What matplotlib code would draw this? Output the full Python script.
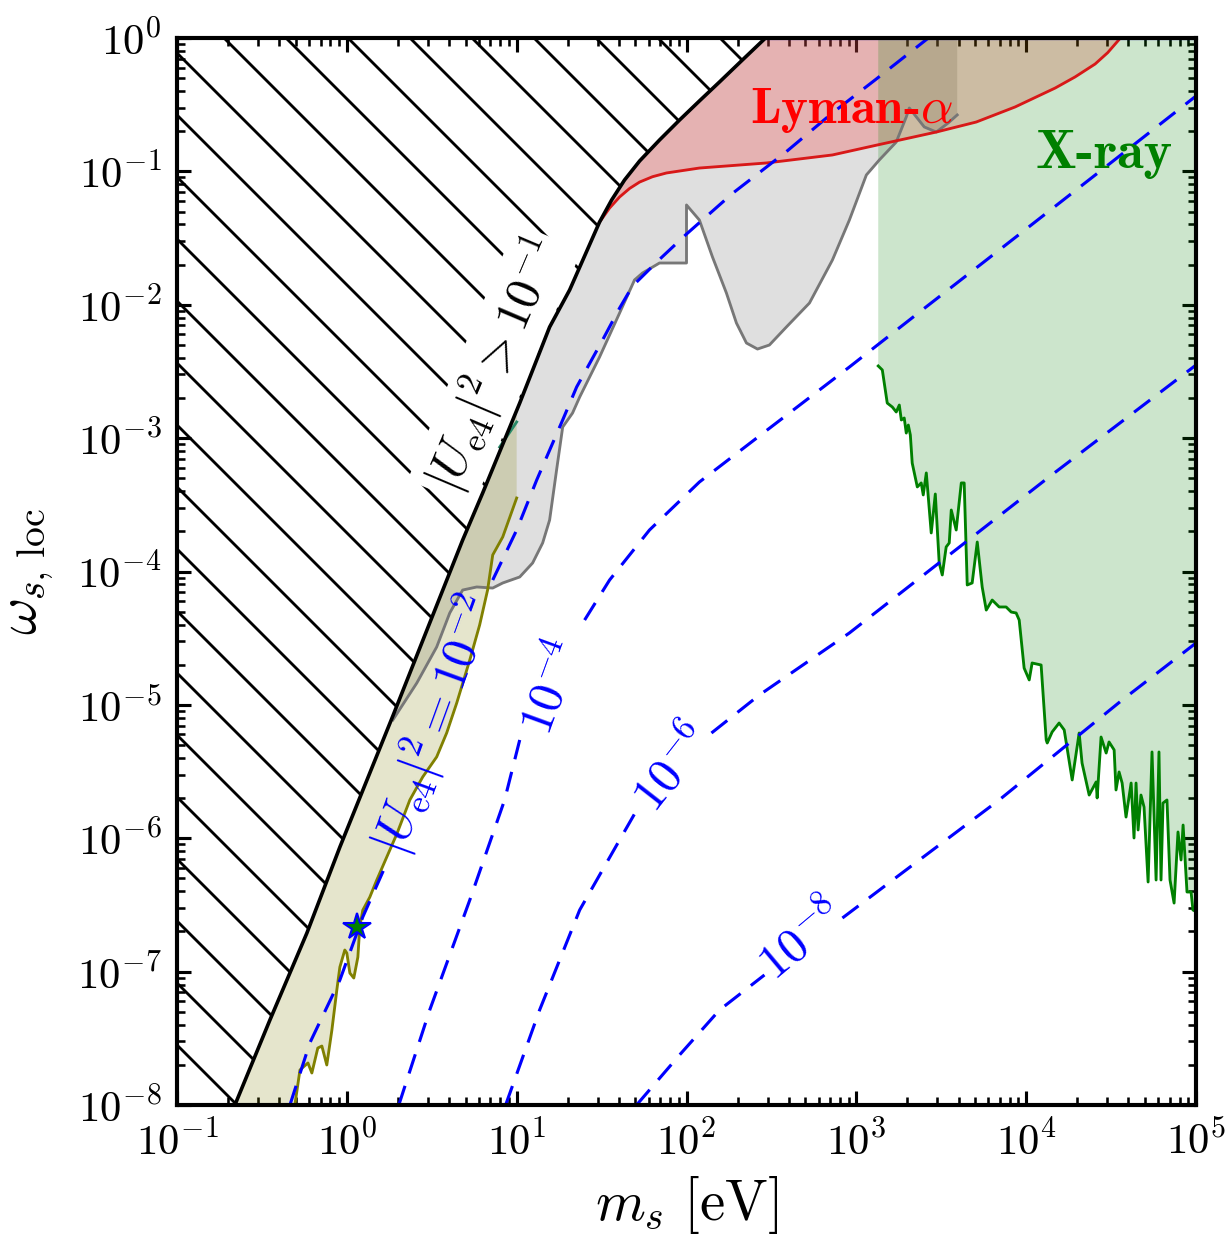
import numpy as np
import matplotlib
matplotlib.use('Agg')
import matplotlib.pyplot as plt

plt.rcParams['mathtext.fontset'] = 'cm'
plt.rcParams['font.family'] = 'serif'
plt.rcParams['font.serif'] = ['cmr10']
plt.rcParams['axes.formatter.use_mathtext'] = True
plt.rcParams['hatch.linewidth'] = 0.55
plt.rcParams['axes.unicode_minus'] = True

DPI = 372

# ---------------- data (log10 values) ----------------
# upper-left boundary |U_e4|^2 > 1e-1 (black)
bound_logm = [-0.659, -0.453, -0.235, -0.041, 0.271, 0.488, 0.682, 0.800, 1.018,
              1.194, 1.312, 1.488, 1.559, 1.635, 1.724, 1.841, 1.959, 2.076, 2.194,
              2.329, 2.465]
bound_logw = [-8.0, -7.363, -6.710, -6.066, -5.083, -4.386, -3.764, -3.411, -2.737,
              -2.167, -1.889, -1.380, -1.215, -1.065, -0.922, -0.765, -0.615, -0.472, -0.330,
              -0.165, 0.0]

# Lyman-alpha bound (red)
lyman_logm = [1.488, 1.547, 1.606, 1.665, 1.724, 1.800, 1.882, 2.076, 2.471, 2.859, 3.124,
              3.471, 3.706, 3.935, 4.171, 4.288, 4.406, 4.480, 4.555]
lyman_logw = [-1.380, -1.275, -1.192, -1.128, -1.080, -1.040, -1.012, -0.975, -0.937, -0.877,
              -0.802, -0.705, -0.630, -0.517, -0.375, -0.292, -0.195, -0.110, 0.0]

# grey region boundary
grey_logm = [0.271, 0.412, 0.529, 0.606, 0.682, 0.765, 0.859, 0.918, 1.018, 1.094,
             1.153, 1.194, 1.235, 1.271, 1.329, 1.371, 1.488, 1.606, 1.694, 1.741, 1.841,
             2.0, 2.0, 2.076, 2.153, 2.235, 2.294, 2.353, 2.418, 2.488, 2.588,
             2.724, 2.859, 2.959, 3.059, 3.135, 3.235, 3.294, 3.312, 3.4, 3.471,
             3.541, 3.594]
grey_logw = [-5.113, -4.836, -4.566, -4.311, -4.139, -4.116, -4.124, -4.086, -4.041, -3.936,
             -3.786, -3.614, -3.239, -2.917, -2.812, -2.692, -2.392, -2.062, -1.814, -1.762, -1.687,
             -1.687, -1.252, -1.365, -1.642, -1.912, -2.137, -2.287, -2.332, -2.302, -2.167,
             -1.987, -1.665, -1.365, -1.027, -0.915, -0.780, -0.592, -0.525, -0.667, -0.705,
             -0.637, -0.577]

# olive region boundary
olive_logm = [-0.306, -0.276, -0.229, -0.206, -0.171, -0.147, -0.118, -0.088, -0.059, -0.041,
              -0.012, 0.0, 0.018, 0.041, 0.065, 0.076, 0.094, 0.135, 0.176, 0.235,
              0.294, 0.371, 0.447, 0.529, 0.588, 0.647, 0.724, 0.782, 0.829, 0.859,
              0.918, 1.0]
olive_logw = [-8.0, -7.737, -7.685, -7.760, -7.573, -7.558, -7.700, -7.438, -7.138, -6.966,
              -6.838, -6.861, -7.011, -7.048, -6.891, -6.666, -6.539, -6.442, -6.314, -6.141,
              -5.969, -5.713, -5.540, -5.390, -5.210, -4.986, -4.663, -4.401, -4.138, -3.876,
              -3.741, -3.449]

# short teal segment near m = 10 eV
teal_logm = [0.90, 1.0]
teal_logw = [-3.067, -2.879]

# X-ray bound (green)
xray_logm = [3.129, 3.153, 3.182, 3.212, 3.235, 3.253, 3.265, 3.282, 3.294, 3.306,
             3.318, 3.329, 3.359, 3.382, 3.394, 3.412, 3.441, 3.465, 3.488, 3.506,
             3.529, 3.547, 3.559, 3.588, 3.618, 3.635, 3.653, 3.682, 3.712, 3.741,
             3.765, 3.800, 3.841, 3.882, 3.912, 3.941, 3.959, 3.988, 4.018, 4.035,
             4.088, 4.118, 4.124, 4.153, 4.194, 4.224, 4.271, 4.312, 4.329, 4.371,
             4.412, 4.418, 4.441, 4.471, 4.488, 4.518, 4.529, 4.547, 4.565, 4.588,
             4.618, 4.635, 4.647, 4.659, 4.676, 4.694, 4.718, 4.741, 4.765, 4.782,
             4.794, 4.806, 4.829, 4.847, 4.871, 4.894, 4.912, 4.924, 4.947, 4.971,
             4.982, 5.0]
xray_logw = [-2.459, -2.489, -2.737, -2.767, -2.804, -2.752, -2.864, -2.849, -2.962, -2.902,
             -2.977, -3.187, -3.366, -3.336, -3.426, -3.261, -3.711, -3.419, -3.936, -4.026,
             -3.816, -3.786, -3.539, -3.689, -3.336, -3.336, -4.101, -4.086, -3.779, -4.116,
             -4.289, -4.214, -4.266, -4.266, -4.304, -4.311, -4.364, -4.724, -4.813, -4.686,
             -4.701, -5.263, -5.286, -5.203, -5.136, -5.188, -5.563, -5.211, -5.436, -5.676,
             -5.578, -5.698, -5.241, -5.361, -5.278, -5.338, -5.638, -5.503, -5.586, -5.841,
             -5.586, -5.998, -5.586, -5.938, -5.676, -5.766, -6.328, -5.353, -6.313, -5.353,
             -6.313, -5.736, -5.713, -6.313, -6.486, -5.953, -6.163, -5.901, -6.403, -6.403,
             -6.538, -6.55]

# |U_e4|^2 contours (blue dashed)
u2_levels = [r'$|U_{\rm e4}|^2 = 10^{-2}$', r'$10^{-4}$', r'$10^{-6}$', r'$10^{-8}$']
u2m2_logm = [-0.335, -0.218, -0.041, 0.094, 0.235, 0.859, 1.0, 1.118, 1.271, 1.353,
             1.506, 1.606, 1.682, 1.841, 2.0, 2.271, 2.588, 2.859, 3.118, 3.424]
u2m2_logw = [-8.0, -7.535, -7.063, -6.590, -6.186, -4.064, -3.689, -3.314, -2.864, -2.617,
             -2.264, -2.025, -1.860, -1.660, -1.470, -1.165, -0.852, -0.562, -0.307, 0.0]
u2m4_logm = [0.306, 0.488, 0.724, 0.929, 1.018, 1.4, 1.547, 1.782, 2.076, 2.429,
             2.959, 3.388, 3.841, 4.429, 5.0]
u2m4_logw = [-8.0, -7.288, -6.463, -5.713, -5.263, -4.364, -4.064, -3.689, -3.329, -2.984,
             -2.467, -2.039, -1.590, -1.005, -0.435]
u2m6_logm = [0.935, 1.135, 1.371, 1.606, 1.724, 2.147, 2.429, 2.959, 3.547, 4.135, 5.0]
u2m6_logw = [-8.0, -7.288, -6.538, -6.013, -5.751, -5.211, -4.926, -4.461, -3.876, -3.291, -2.452]
u2m8_logm = [1.706, 1.959, 2.194, 2.459, 2.918, 3.253, 3.841, 4.565, 5.0]
u2m8_logw = [-8.0, -7.625, -7.288, -7.025, -6.598, -6.276, -5.713, -4.964, -4.536]

# benchmark point (star)
star_logm = 0.059
star_logw = -6.666

# ---------------- figure ----------------
def P(a):
    return 10.0 ** np.asarray(a, dtype=float)

fig = plt.figure(figsize=(1230 / DPI, 1237 / DPI), dpi=DPI)
ax = fig.add_axes([177 / 1230, 1 - 1105 / 1237, (1196 - 177) / 1230, (1105 - 38) / 1237])
ax.set_xscale('log')
ax.set_yscale('log')
xmin, xmax, ymin, ymax = 1e-1, 1e5, 1e-8, 1e0
ax.set_xlim(xmin, xmax)
ax.set_ylim(ymin, ymax)

bm, bw = P(bound_logm), P(bound_logw)

# hatched excluded region
ax.fill(np.concatenate([bm, [xmin, xmin]]), np.concatenate([bw, [ymax, ymin]]),
        facecolor='none', edgecolor='k', hatch='\\\\', lw=0, zorder=1)

# grey region
gm, gw = P(grey_logm), P(grey_logw)
sel = bm >= gm[0]
ax.fill(np.concatenate([gm, [gm[-1]], bm[sel][::-1]]),
        np.concatenate([gw, [ymax], bw[sel][::-1]]),
        facecolor='gray', alpha=0.25, lw=0, zorder=2)
ax.plot(gm, gw, color='#777777', lw=0.55, zorder=3)

# olive region
om, ow = P(olive_logm), P(olive_logw)
w_top = 10 ** np.interp(np.log10(om[-1]), bound_logm, bound_logw)
sel = bm < om[-1]
ax.fill(np.concatenate([om, [om[-1]], bm[sel][::-1]]),
        np.concatenate([ow, [w_top], bw[sel][::-1]]),
        facecolor='olive', alpha=0.2, lw=0, zorder=2)
ax.plot(om, ow, color='olive', lw=0.55, zorder=3)
ax.plot(P(teal_logm), P(teal_logw), color='#2a8a6a', lw=0.55, zorder=3)

# Lyman-alpha region
lm, lw_ = P(lyman_logm), P(lyman_logw)
sel = bm >= lm[0]
ax.fill(np.concatenate([lm, bm[sel][::-1]]), np.concatenate([lw_, bw[sel][::-1]]),
        facecolor='red', alpha=0.2, lw=0, zorder=2)
ax.plot(lm, lw_, color='#d81818', lw=0.55, zorder=3)

# X-ray region
xm, xw = P(xray_logm), P(xray_logw)
ax.fill_between(xm, xw, ymax, facecolor='green', alpha=0.2, lw=0, zorder=2)
ax.plot(xm, xw, color='green', lw=0.55, zorder=3)

# black boundary
ax.plot(bm, bw, color='k', lw=0.7, zorder=5)
ax.plot([bm[-1], xmax], [ymax, ymax], color='blue', lw=0.8, zorder=4)

# blue dashed contours with gaps for labels
def dashed(lm_, lw__, gap):
    m, w = P(lm_), P(lw__)
    for a, b in ((0, gap[0] + 1), (gap[1], len(m))):
        ax.plot(m[a:b], w[a:b], color='blue', lw=0.6, dashes=(6.5, 4.2), zorder=4)

dashed(u2m2_logm, u2m2_logw, (4, 5))
dashed(u2m4_logm, u2m4_logw, (4, 5))
dashed(u2m6_logm, u2m6_logw, (4, 5))
dashed(u2m8_logm, u2m8_logw, (3, 4))

ax.plot(P(star_logm), P(star_logw), marker='*', ms=5.5, mfc='green', mec='blue',
        mew=0.4, zorder=7, ls='none')

# labels
ax.text(10 ** 0.870, 10 ** -2.452, r'$|U_{\rm e4}|^2 > 10^{-1}$', rotation=67,
        ha='center', va='center', fontsize=9.5, color='k', zorder=2.5,
        bbox=dict(fc='white', ec='none', pad=1.0), rotation_mode='anchor')
ax.text(10 ** 0.518, 10 ** -5.151, u2_levels[0], rotation=70, ha='center', va='center',
        fontsize=9.5, color='blue', zorder=6, rotation_mode='anchor')
ax.text(10 ** 1.212, 10 ** -4.873, u2_levels[1], rotation=70, ha='center', va='center',
        fontsize=9.5, color='blue', zorder=6, rotation_mode='anchor')
ax.text(10 ** 1.918, 10 ** -5.473, u2_levels[2], rotation=52, ha='center', va='center',
        fontsize=9.5, color='blue', zorder=6, rotation_mode='anchor')
ax.text(10 ** 2.676, 10 ** -6.763, u2_levels[3], rotation=40, ha='center', va='center',
        fontsize=9.5, color='blue', zorder=6, rotation_mode='anchor')

ax.text(10 ** 2.971, 10 ** -0.540, r'Lyman-$\alpha$', color='red', fontsize=9.9,
        ha='center', va='center', family='cmb10', zorder=6)
ax.text(10 ** 4.459, 10 ** -0.877, 'X-ray', color='green', fontsize=10.5,
        ha='center', va='center', family='cmb10', zorder=6)

ax.set_xlabel(r'$m_s\ [{\rm eV}]$', fontsize=11, labelpad=2)
ax.set_ylabel(r'$\omega_{s,\,{\rm loc}}$', fontsize=11, labelpad=4)

ax.tick_params(which='major', direction='in', length=2.8, width=0.6, top=True, right=True,
               pad=3.0, labelsize=8.3)
ax.tick_params(which='minor', direction='in', length=1.5, width=0.5, top=True, right=True)
for s in ax.spines.values():
    s.set_linewidth(0.8)
    s.set_zorder(8)

fig.savefig('out.png', dpi=DPI)
